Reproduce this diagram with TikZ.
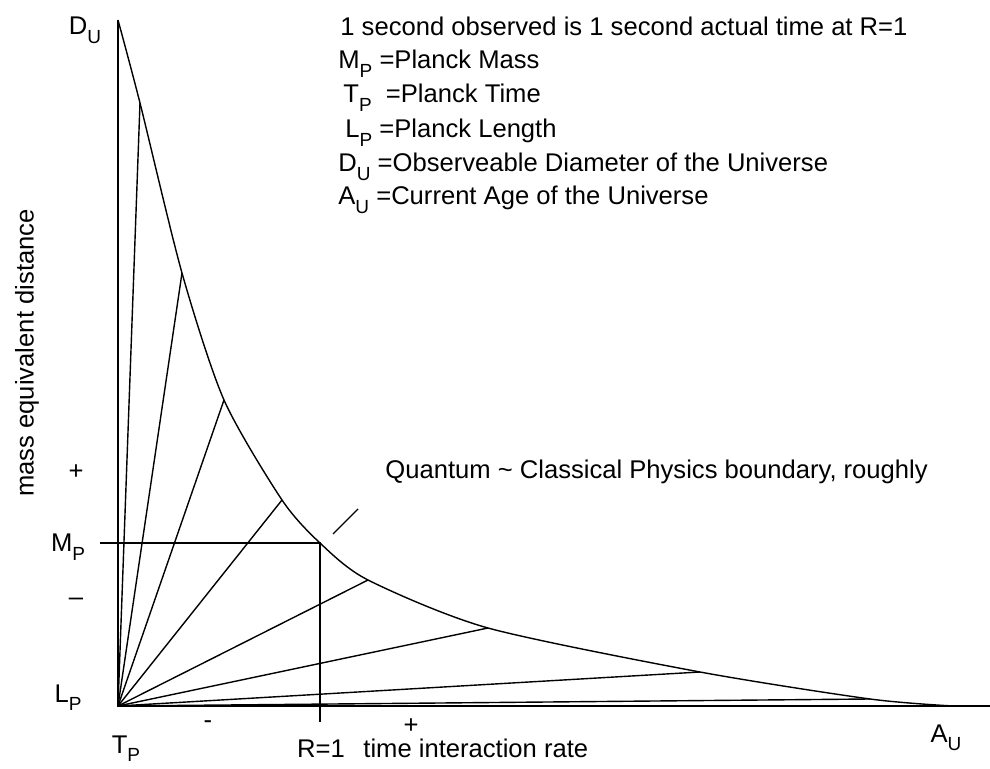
\documentclass[tikz,border=0pt]{standalone}
\usepackage{fontspec}
\setmainfont{Liberation Sans}
\usetikzlibrary{positioning, calc}

\newcommand{\lowsub}[1]{\raisebox{-0.6ex}{\fontsize{9.5}{10}\selectfont #1}}

\tikzset{
    % --- Axis lines ---
    axis line/.style = {line width=0.75pt},
    % --- Ray from the origin to the curve ---
    ray/.style = {line width=0.7pt},
    % --- Quantum/classical boundary curve ---
    boundary/.style = {line width=0.7pt},
    % --- Point and axis labels ---
    tick label/.style = {
        font=\fontsize{12.8}{15}\selectfont,
        inner sep=0pt, anchor=base
    },
    % --- Legend lines (top right) ---
    legend/.style = {
        font=\fontsize{12.8}{15}\selectfont,
        inner sep=0pt, anchor=base west
    },
    % --- Plus / minus marks ---
    sign/.style = {
        font=\fontsize{12.8}{15}\selectfont,
        inner sep=0pt
    }
}

\begin{document}
\begin{tikzpicture}[x=0.5pt, y=-0.5pt]
\useasboundingbox (0,0) rectangle (990,769);

% ---------------------------------------------------------
% Points on the curve
% ---------------------------------------------------------
\coordinate (O)    at (118,706);
\coordinate (DU)   at (118,20);
\coordinate (AU)   at (953,706);
\coordinate (Xend) at (990,706);
\coordinate (P1)   at (140,103);
\coordinate (P2)   at (182,273);
\coordinate (P3)   at (224,400);
\coordinate (P4)   at (282,500);
\coordinate (R1)   at (320,543);
\coordinate (P5)   at (368,580);
\coordinate (P6)   at (488,628);
\coordinate (P7)   at (700,672);
\coordinate (P8)   at (870,699);

% ---------------------------------------------------------
% Axes
% ---------------------------------------------------------
\draw[axis line] (DU) -- (O) -- (Xend);

% ---------------------------------------------------------
% Boundary curve
% ---------------------------------------------------------
\draw[boundary] plot[smooth, tension=0.45] coordinates
    {(DU) (P1) (P2) (P3) (P4) (R1) (P5) (P6) (P7) (P8) (AU)};

% ---------------------------------------------------------
% Rays from the origin
% ---------------------------------------------------------
\foreach \p in {P1,P2,P3,P4,P5,P6,P7,P8} {
    \draw[ray] (O) -- (\p);
}

% ---------------------------------------------------------
% Planck mass and R=1 guide lines
% ---------------------------------------------------------
\coordinate (MPstart) at (100,543);
\coordinate (Rfoot)   at (320,722);
\draw[ray] (MPstart) -- (R1) -- (Rfoot);

% boundary marker
\coordinate (slashA) at (333,534);
\coordinate (slashB) at (358,509);
\draw[ray] (slashA) -- (slashB);

% ---------------------------------------------------------
% Labels
% ---------------------------------------------------------
\node[tick label] (DUlab) at (85,35)  {D\lowsub{U}};
\node[tick label] (MPlab) at (68,552) {M\lowsub{P}};
\node[tick label] (LPlab) at (68,702) {L\lowsub{P}};
\node[tick label] (TPlab) at (126,753) {T\lowsub{P}};
\node[tick label] (Rlab)  at (321,757) {R=1};
\node[tick label] (AUlab) at (946,742) {A\lowsub{U}};
\node[legend] (xlab) at (363,757) {time interaction rate};
\node[sign, rotate=90] (ylab) at (27,353) {mass equivalent distance};

\node[sign] (plusY)  at (76,472)  {+};
\node[sign] (minusY) at (76,602)  {\textendash};
\node[sign] (minusX) at (208,725) {-};
\node[sign] (plusX)  at (411,726) {+};

\node[legend] (qc) at (385,479)
    {Quantum \textasciitilde{} Classical Physics boundary, roughly};

% ---------------------------------------------------------
% Legend
% ---------------------------------------------------------
\node[legend] (L1) at (340,36)  {1 second observed is 1 second actual time at R=1};
\node[legend] (L2) at (338,69)  {M\lowsub{P} =Planck Mass};
\node[legend] (L3) at (343,103) {T\lowsub{P} \ =Planck Time};
\node[legend] (L4) at (345,138) {L\lowsub{P} =Planck Length};
\node[legend] (L5) at (338,172) {D\lowsub{U} =Observeable Diameter of the Universe};
\node[legend] (L6) at (338,205) {A\lowsub{U} =Current Age of the Universe};

\end{tikzpicture}
\end{document}
